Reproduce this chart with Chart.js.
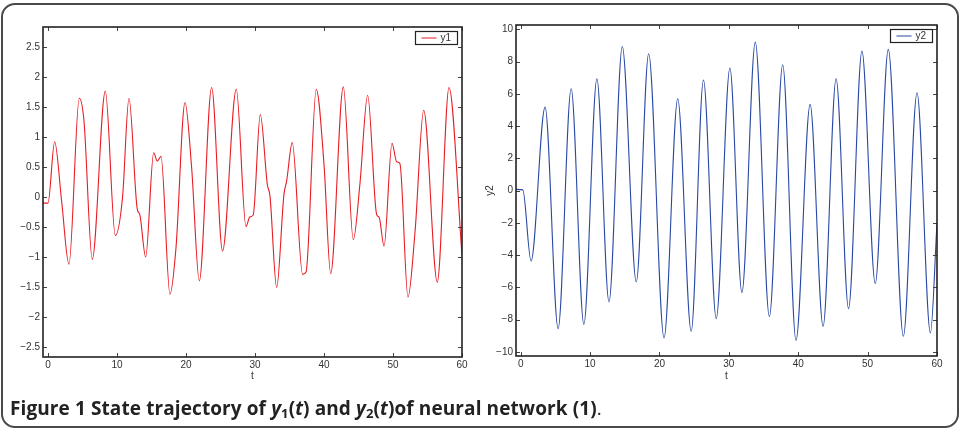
<!DOCTYPE html>
<html>
<head>
<meta charset="utf-8">
<script src="https://cdn.jsdelivr.net/npm/chart.js@4"></script>
<style>
  html, body { margin: 0; padding: 0; background: #fff; }
  body { width: 961px; height: 431px; position: relative; overflow: hidden; }
  .frame {
    position: absolute; left: 1px; top: 3px; width: 954px; height: 421px;
    border: 2px solid #4a4a4a; border-radius: 14px;
  }
  .panel { position: absolute; top: 0; height: 400px; }
  #p1 { left: 0; width: 480px; }
  #p2 { left: 480px; width: 481px; }
  .caption {
    position: absolute; left: 10px; top: 395px;
    font-family: "Open Sans", "DejaVu Sans", sans-serif; font-weight: bold;
    font-size: 19px; color: #222; white-space: nowrap; letter-spacing: 0.1px;
  }
  .caption i { font-style: italic; }
  .caption sub { font-size: 13px; vertical-align: -3px; line-height: 0; }
  .caption .plain { font-weight: normal; }
</style>
</head>
<body>
<div class="frame"></div>
<div class="panel" id="p1"><canvas id="c1"></canvas></div>
<div class="panel" id="p2"><canvas id="c2"></canvas></div>
<div class="caption">Figure 1 State trajectory of <i>y</i><sub>1</sub>(<i>t</i>) and <i>y</i><sub>2</sub>(<i>t</i>)of neural network (1)<span class="plain">.</span></div>

<script>
// values (turning points and shoulders)
const t1 = [-0.72, 0, 0.97, 1.98, 3.04, 4.54, 5.22, 6.42, 8.31, 9.76, 10.8, 11.74, 12.94, 13.3, 14.16,
            15.32, 15.84, 16.38, 17.68, 18.55, 19.86, 20.82, 21.93, 23.72, 25.3, 27.29, 28.7, 29.26, 29.74,
            30.77, 31.79, 32.17, 33.14, 34.2, 34.59, 35.4, 36.9, 37.4, 38.88, 40.0, 40.97, 42.8, 44.25,
            45.2, 46.33, 47.63, 48.0, 48.7, 49.86, 50.53, 51.0, 52.17, 53.2, 54.45, 56.42, 58.12, 60];
const y1 = [-0.1, -0.1, 0.925, -0.07, -1.12, 1.65, 1.27, -1.04, 1.77, -0.64, -0.01, 1.65, -0.2, -0.29, -1.0,
            0.74, 0.6, 0.68, -1.62, -0.85, 1.58, 0.49, -1.40, 1.83, -0.90, 1.80, -0.49, -0.33, -0.30,
            1.38, 0.21, 0.02, -1.51, 0.045, 0.27, 0.91, -1.29, -1.25, 1.80, 0.55, -1.28, 1.84, -0.71,
            0.21, 1.70, -0.29, -0.34, -0.82, 0.90, 0.59, 0.56, -1.67, -0.57, 1.45, -1.42, 1.83, -0.97];

const t2 = [-0.68, 0.3, 1.49, 3.51, 5.39, 7.27, 9.1, 10.98, 12.72, 14.64, 16.66, 18.44, 20.66, 22.63,
            24.57, 26.34, 28.18, 30.15, 31.88, 33.81, 35.84, 37.76, 39.68, 41.71, 43.58, 45.46, 47.25,
            49.18, 51.1, 52.98, 55.15, 57.12, 59.05, 60];
const y2 = [0.08, 0.05, -4.36, 5.18, -8.55, 6.32, -8.29, 6.94, -6.9, 8.94, -5.66, 8.49, -9.13, 5.70,
            -8.72, 6.86, -7.93, 7.6, -6.32, 9.21, -7.81, 7.81, -9.28, 5.35, -8.41, 6.94, -7.31,
            8.65, -5.76, 8.76, -9.03, 6.07, -8.82, -2.0];

const xTicks = [0, 10, 20, 30, 40, 50, 60];
const yTicks1 = [-2.5, -2, -1.5, -1, -0.5, 0, 0.5, 1, 1.5, 2, 2.5];
const yTicks2 = [-10, -8, -6, -4, -2, 0, 2, 4, 6, 8, 10];

const tickFont = { family: "'Liberation Sans', Arial, sans-serif", size: 10 };
const fmt = v => (v < 0 ? '\u2212' : '') + Math.abs(v);

// MATLAB-style box, inward ticks on all sides and a small legend
const matlabBox = {
  id: 'matlabBox',
  afterDatasetsDraw(chart) {
    const { ctx, chartArea: a, scales: { x, y } } = chart;
    ctx.save();
    ctx.strokeStyle = '#444';
    ctx.lineWidth = 1;
    ctx.beginPath();
    x.ticks.forEach(tk => {
      const px = Math.round(x.getPixelForValue(tk.value)) + 0.5;
      ctx.moveTo(px, a.bottom); ctx.lineTo(px, a.bottom - 4);
      ctx.moveTo(px, a.top); ctx.lineTo(px, a.top + 4);
    });
    y.ticks.forEach(tk => {
      const py = Math.round(y.getPixelForValue(tk.value)) + 0.5;
      ctx.moveTo(a.left, py); ctx.lineTo(a.left + 4, py);
      ctx.moveTo(a.right, py); ctx.lineTo(a.right - 4, py);
    });
    ctx.stroke();

    ctx.strokeStyle = '#222';
    ctx.lineWidth = 1.6;
    ctx.strokeRect(a.left, a.top, a.right - a.left, a.bottom - a.top);

    const ds = chart.data.datasets[0];
    const w = 42, h = 13;
    const bx = a.right - 4.5 - w, by = a.top + 4.5;
    ctx.fillStyle = '#fff';
    ctx.fillRect(bx, by, w, h);
    ctx.lineWidth = 1.2;
    ctx.strokeStyle = '#222';
    ctx.strokeRect(bx, by, w, h);
    ctx.strokeStyle = ds.borderColor;
    ctx.lineWidth = 1;
    ctx.beginPath();
    ctx.moveTo(bx + 6, by + h / 2); ctx.lineTo(bx + 21, by + h / 2);
    ctx.stroke();
    ctx.fillStyle = '#333';
    ctx.font = "10px 'Liberation Sans', Arial, sans-serif";
    ctx.textBaseline = 'middle';
    ctx.fillText(ds.label, bx + 25, by + h / 2 + 0.5);
    ctx.restore();
  }
};

function makeChart(id, t, y, label, color, yTicks, yMin, yMax, xMin, geo) {
  const points = t.map((v, i) => ({ x: v, y: y[i] }));
  return new Chart(document.getElementById(id), {
    type: 'line',
    data: {
      datasets: [{
        label: label,
        data: points,
        borderColor: color,
        borderWidth: 1.1,
        pointRadius: 0,
        fill: false,
        cubicInterpolationMode: 'monotone'
      }]
    },
    options: {
      responsive: true,
      maintainAspectRatio: false,
      animation: false,
      events: [],
      layout: { padding: { left: 0, top: geo.top, right: geo.right, bottom: 0 } },
      plugins: { legend: { display: false }, tooltip: { enabled: false } },
      scales: {
        x: {
          type: 'linear', min: xMin, max: 60,
          grid: { display: false, drawTicks: false },
          border: { display: false },
          afterBuildTicks: s => { s.ticks = xTicks.map(v => ({ value: v })); },
          afterFit: s => { s.height = geo.xh; },
          ticks: { font: tickFont, color: '#333', padding: 2, maxRotation: 0, autoSkip: false },
          title: { display: true, text: 't', font: tickFont, color: '#333', padding: 18 }
        },
        y: {
          type: 'linear', min: yMin, max: yMax,
          grid: { display: false, drawTicks: false },
          border: { display: false },
          afterBuildTicks: s => { s.ticks = yTicks.map(v => ({ value: v })); },
          afterFit: s => { s.width = geo.yw; },
          ticks: { font: tickFont, color: '#333', padding: 3, autoSkip: false, callback: fmt },
          title: { display: geo.yTitle, text: label, font: tickFont, color: '#333', padding: 4 }
        }
      }
    },
    plugins: [matlabBox]
  });
}

makeChart('c1', t1, y1, 'y1', 'rgb(232,28,36)', yTicks1, -2.67, 2.84, -0.72,
  { top: 27, right: 18, xh: 43, yw: 43, yTitle: false });
makeChart('c2', t2, y2, 'y2', 'rgb(40,72,165)', yTicks2, -10.25, 10.27, -0.68,
  { top: 25, right: 24, xh: 44, yw: 36, yTitle: true });
</script>
</body>
</html>
